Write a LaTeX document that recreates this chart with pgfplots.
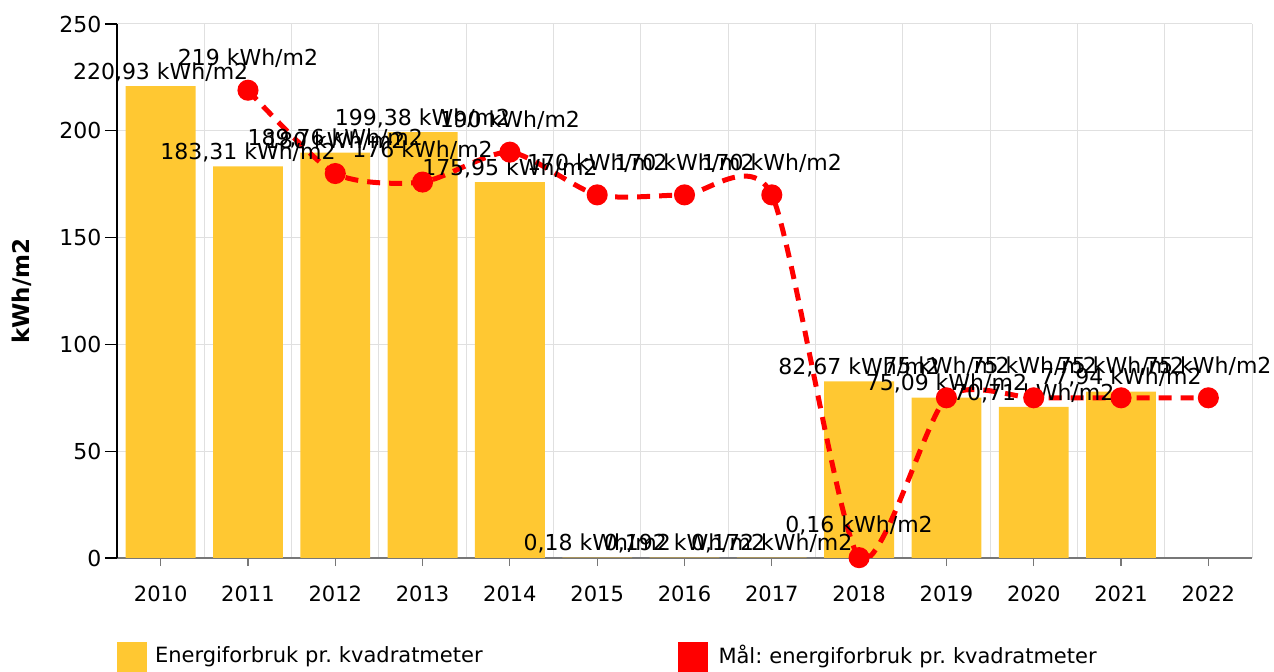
\documentclass[border=0pt]{standalone}
\usepackage{fontspec}
\setmainfont{DejaVu Sans}
\usepackage{pgfplots}
\pgfplotsset{compat=1.18}
\definecolor{barc}{HTML}{FFC832}
\definecolor{gridc}{HTML}{E0E0E0}
\definecolor{axc}{HTML}{777777}
\pgfplotstableread{
x y l
0 220.93 220,93
1 183.31 183,31
2 189.76 189,76
3 199.38 199,38
4 175.95 175,95
5 0.18 0,18
6 0.192 0,192
7 0.172 0,172
8 82.67 82,67
9 75.09 75,09
10 70.71 70,71
11 77.94 77,94
}\bars
\pgfplotstableread{
x y l
1 219 219
2 180 180
3 176 176
4 190 190
5 170 170
6 170 170
7 170 170
8 0.16 0,16
9 75 75
10 75 75
11 75 75
12 75 75
}\target
\begin{document}
\frenchspacing
\begin{tikzpicture}
\useasboundingbox (0,0) rectangle (1274bp,672bp);
\begin{axis}[
  at={(117bp,114bp)}, anchor=south west,
  scale only axis, width=1135bp, height=534bp,
  xmin=-0.5, xmax=12.5, ymin=0, ymax=250,
  axis lines=left, axis line style={-},
  x axis line style={draw=axc, line width=1.2bp},
  y axis line style={draw=black, line width=1.2bp},
  xtick={0,1,2,3,4,5,6,7,8,9,10,11,12},
  xticklabels={2010,2011,2012,2013,2014,2015,2016,2017,2018,2019,2020,2021,2022},
  minor xtick={-0.5,0.5,1.5,2.5,3.5,4.5,5.5,6.5,7.5,8.5,9.5,10.5,11.5,12.5}, xminorgrids,
  minor x grid style={gridc, line width=1bp},
  minor tick length=0pt,
  ytick={0,50,100,150,200,250}, ymajorgrids,
  major y grid style={gridc, line width=1bp},
  tick align=outside,
  major tick length=12bp,
  xtick style={draw=axc, line width=1.2bp, /pgfplots/major tick length=8bp},
  ytick style={draw=black, line width=1.2bp},
  ticklabel style={font=\fontsize{21bp}{25bp}\selectfont},
  yticklabel style={font=\fontsize{22bp}{26bp}\selectfont},
  xticklabel style={yshift=-12bp},
  /pgf/number format/assume math mode=true,
  ylabel={kWh/m2},
  ylabel style={font=\fontsize{23bp}{27bp}\selectfont\bfseries, at={(axis description cs:-0.0837,0.5)}, anchor=center},
  legend columns=2,
  legend style={at={(axis description cs:0,-0.157)}, anchor=north west,
    draw=none, fill=none, inner sep=0pt, outer sep=0pt,
    font=\fontsize{21bp}{25bp}\selectfont,
    nodes={inner sep=0pt},
    /tikz/every even column/.style={text width=523bp}},
  legend cell align=left,
]
\addplot[ybar, bar width=0.8, fill=barc, draw=none,
  point meta=explicit symbolic,
  nodes near coords={\pgfplotspointmeta\ kWh/m2},
  nodes near coords style={font=\fontsize{22bp}{26bp}\selectfont, text=black, anchor=south, inner sep=0pt, yshift=4bp},
  legend image code/.code={\path[fill=barc, draw=none, solid] (0bp,-17bp) rectangle (30bp,13bp); \path (38bp,0bp);}
] table[x=x, y=y, meta=l] {\bars};
\addlegendentry{Energiforbruk pr. kvadratmeter}
\addplot[red, line width=5bp, dash pattern=on 13bp off 9bp, smooth, tension=0.42,
  mark=*, mark size=8bp, mark options={solid, fill=red, draw=none},
  point meta=explicit symbolic,
  nodes near coords={\pgfplotspointmeta\ kWh/m2},
  nodes near coords style={font=\fontsize{22bp}{26bp}\selectfont, text=black, anchor=south, inner sep=0pt, yshift=20bp},
  legend image code/.code={\path[fill=red, draw=none, solid, sharp plot] (0bp,-17bp) rectangle (30bp,13bp); \path (38bp,0bp);}
] table[x=x, y=y, meta=l] {\target};
\addlegendentry{Mål: energiforbruk pr. kvadratmeter}
\end{axis}
\end{tikzpicture}
\end{document}
